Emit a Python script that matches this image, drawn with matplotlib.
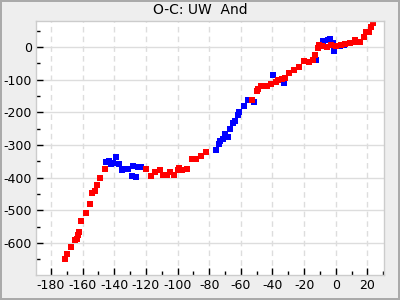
import matplotlib
matplotlib.use("Agg")
import matplotlib.pyplot as plt
from matplotlib.ticker import MultipleLocator

plt.rcParams["axes.unicode_minus"] = False

# O-C points (epoch, O-C)
red_x = [-171, -169.7, -167.2, -164.6, -163.7, -162.7, -162.1, -160.8, -157.7,
         -155.1, -153.9, -152, -150.7, -148.8, -145.6,
         -119.7, -116.5, -114, -110.9, -109, -106.5, -104.6, -102.1, -99.6,
         -99, -97.1, -93.9, -90.8, -88.2, -85, -81.8,
         -52.8, -49.6, -49, -47, -44.5, -43.3, -40.8, -37.6, -36.3, -34.1,
         -32.2, -29.3, -26.2, -23.4, -20.2, -17, -14.5, -13.3,
         -11.4, -10.8, -8.9, -5.7, -3.2, 0, 3.1, 5.6, 9, 12.1, 12.1, 15.3,
         17.8, 18.9, 21, 22.5, 23.8]
red_y = [-649, -634, -612, -591, -587, -574, -565, -533, -508,
         -481, -447, -441, -422, -401, -373,
         -373, -395, -383, -376, -392, -392, -383, -392, -376,
         -370, -376, -373, -343, -343, -334, -321,
         -162, -135, -129, -119, -119, -119, -113, -107, -101, -97,
         -94, -79, -69, -60, -42, -45, -39, -24,
         -2, 7, 4, 1, 6, 4, 7, 9, 13, 23, 15, 16,
         32, 45, 45, 61, 73]

blue_x = [-145, -143.2, -141.9, -140.6, -138.7, -136.8, -134.9, -133, -131.1,
          -128.6, -128, -126, -124.8, -122.9,
          -75.5, -73.6, -73, -71.1, -69.8, -67.9, -66.6, -64.7, -63.5, -61.6,
          -60.9, -57.8, -55.3, -51.5, -39.5, -32.5, -12.6,
          -7.8, -5.0, -3.4, -1.8, -0.9, 2.7, 5.4]
blue_y = [-352, -349, -358, -355, -337, -358, -376, -373, -373,
          -395, -364, -398, -367, -367,
          -315, -297, -288, -282, -266, -275, -251, -233, -227, -208,
          -199, -181, -162, -168, -86, -109, -40,
          19, 22, 24, 12, -12, 4, 6]

fig = plt.figure(figsize=(4, 3), dpi=100)
fig.patch.set_facecolor("#eeeeee")
fig.patch.set_edgecolor("#aaaaaa")
fig.patch.set_linewidth(1.5)
ax = fig.add_axes([0.09, 0.083, 0.87, 0.847])
ax.set_facecolor("white")

ax.plot(blue_x, blue_y, "s", color="#0000ff", markersize=4, markeredgewidth=0)
ax.plot(red_x, red_y, "s", color="#ff0000", markersize=4, markeredgewidth=0)

ax.set_xlim(-189.5, 30.5)
ax.set_ylim(-698, 80)
ax.xaxis.set_major_locator(MultipleLocator(20))
ax.xaxis.set_minor_locator(MultipleLocator(10))
ax.yaxis.set_major_locator(MultipleLocator(100))
ax.yaxis.set_minor_locator(MultipleLocator(50))
ax.tick_params(which="both", direction="in", top=False, right=False,
               labelsize=9, color="black", pad=3)
ax.tick_params(which="major", length=5, width=1)
ax.tick_params(which="minor", length=3, width=1)

ax.grid(True, axis="y", which="major", color="#dddddd", linewidth=1, linestyle="-")
ax.grid(True, axis="x", which="major", color="#dddddd", linewidth=1, linestyle=(0, (4, 3)))
ax.set_axisbelow(True)
for s in ax.spines.values():
    s.set_color("#cccccc")
    s.set_linewidth(1)

fig.text(0.5, 0.965, "O-C: UW  And", ha="center", va="center", fontsize=10)

fig.savefig("out.png", dpi=100, facecolor=fig.get_facecolor(), edgecolor=fig.get_edgecolor())
